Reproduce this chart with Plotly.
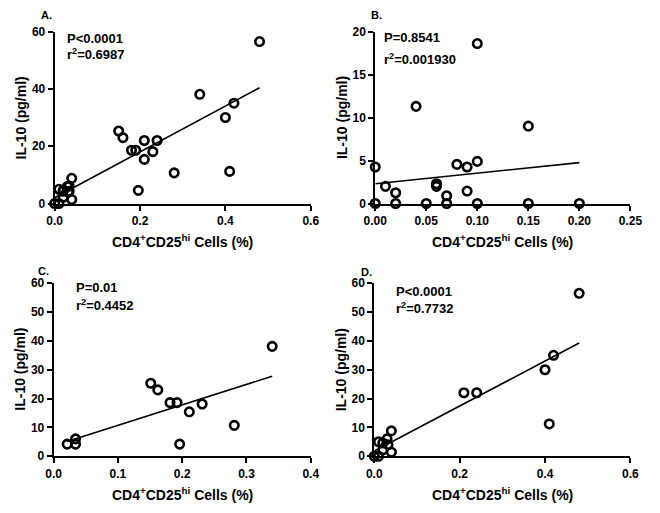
import numpy as np
import plotly.graph_objects as go

# ---------------- data ----------------
a_x = [0, 0.01, 0.01, 0.02, 0.02, 0.02, 0.03, 0.032, 0.034, 0.034, 0.04, 0.04,
       0.15, 0.16, 0.18, 0.19, 0.196, 0.21, 0.21, 0.23, 0.24, 0.28, 0.34,
       0.40, 0.41, 0.42, 0.48]
a_y = [0, 0, 5.0, 4.6, 4.3, 2.2, 6.0, 4.0, 4.3, 6.1, 8.8, 1.4,
       25.3, 23.0, 18.6, 18.6, 4.6, 22.0, 15.4, 18.1, 22.0, 10.7, 38.1,
       30.0, 11.2, 35.0, 56.5]

b_x = [0, 0, 0.01, 0.02, 0.02, 0.04, 0.05, 0.06, 0.06, 0.07, 0.07, 0.08,
       0.09, 0.09, 0.10, 0.10, 0.10, 0.15, 0.15, 0.20]
b_y = [4.25, 0, 2.0, 1.25, 0, 11.3, 0, 2.3, 2.0, 0, 0.9, 4.55,
       4.25, 1.45, 4.9, 18.6, 0, 9.0, 0, 0]

c_x = [0.021, 0.034, 0.034, 0.151, 0.162, 0.181, 0.192, 0.196, 0.211, 0.231, 0.281, 0.340]
c_y = [4.2, 4.2, 6.0, 25.3, 23.0, 18.6, 18.6, 4.2, 15.4, 18.1, 10.7, 38.1]

d_x = [0, 0.01, 0.01, 0.02, 0.02, 0.03, 0.032, 0.04, 0.04, 0.21, 0.24, 0.40, 0.41, 0.42, 0.48]
d_y = [0, 0, 5.0, 4.6, 2.2, 6.0, 4.0, 8.8, 1.4, 22.0, 22.0, 30.0, 11.2, 35.0, 56.5]

# regression lines (slope, intercept)
fit_a = (80.0, 2.0)
fit_b = (12.3, 2.3)
fit_c = (71.0, 3.6)
fit_d = (78.0, 1.8)

stats_p = ["P<0.0001", "P=0.8541", "P=0.01", "P<0.0001"]
stats_r2 = ["0.6987", "0.001930", "0.4452", "0.7732"]
panel_labels = ["A.", "B.", "C.", "D."]

x_ranges = [[0, 0.6], [0, 0.25], [0, 0.4], [0, 0.6]]
y_ranges = [[0, 60], [0, 20], [0, 60], [0, 60]]
x_ticks = [[0.0, 0.2, 0.4, 0.6], [0.0, 0.05, 0.10, 0.15, 0.20, 0.25],
           [0.0, 0.1, 0.2, 0.3, 0.4], [0.0, 0.2, 0.4, 0.6]]
x_ticklabels = [["0.0", "0.2", "0.4", "0.6"], ["0.00", "0.05", "0.10", "0.15", "0.20", "0.25"],
                ["0.0", "0.1", "0.2", "0.3", "0.4"], ["0.0", "0.2", "0.4", "0.6"]]
y_ticks = [[0, 20, 40, 60], [0, 5, 10, 15, 20], [0, 10, 20, 30, 40, 50, 60],
           [0, 10, 20, 30, 40, 50, 60]]

x_title = "CD4<sup>+</sup>CD25<sup>hi</sup> Cells (%)"
y_title = "IL-10 (pg/ml)"

# ---------------- layout geometry ----------------
# page is 660x513; the body keeps its default 8px margin, so the figure is
# 16px smaller and page pixel p maps to figure pixel p - 8.
PAGE_W, PAGE_H = 660, 513
OFF = 8
W, H = PAGE_W - 2 * OFF, PAGE_H - 2 * OFF
# (left, right, top, bottom) in page pixels for each plot area
boxes = [(44, 310, 25, 202), (377, 642, 25, 202), (43, 310, 284, 462), (376, 642, 284, 462)]
label_pos = [(28, 8), (370, 8), (25, 271), (360, 272)]
p_pos = [(55, 32), (384, 31), (64, 288), (396, 292)]
r_pos = [(55, 48), (384, 53), (64, 306), (396, 310)]


def fx(px):
    return (px - OFF) / W


def fy(py):
    return 1 - (py - OFF) / H


FONT = "Liberation Sans, Arial, sans-serif"

fig = go.Figure()
datasets = [(a_x, a_y, fit_a), (b_x, b_y, fit_b), (c_x, c_y, fit_c), (d_x, d_y, fit_d)]
annotations = []
for i, (xs, ys, fit) in enumerate(datasets):
    sfx = "" if i == 0 else str(i + 1)
    xa, ya = "x" + sfx, "y" + sfx
    lx = np.array([min(xs), max(xs)])
    ly = fit[0] * lx + fit[1]
    fig.add_trace(go.Scatter(x=lx, y=ly, mode="lines", xaxis=xa, yaxis=ya,
                             line=dict(color="black", width=1.6), showlegend=False,
                             hoverinfo="skip"))
    fig.add_trace(go.Scatter(x=xs, y=ys, mode="markers", xaxis=xa, yaxis=ya,
                             marker=dict(symbol="circle-open", size=8.5, color="black",
                                         line=dict(color="black", width=2.6)),
                             cliponaxis=False, showlegend=False))
    l, r, t, b = boxes[i]
    axis_common = dict(showline=True, linecolor="black", linewidth=2, ticks="outside",
                       ticklen=5, tickwidth=2, tickcolor="black", showgrid=False,
                       zeroline=False, tickfont=dict(family=FONT, size=12, color="black",
                                                     weight="bold"))
    fig.layout["xaxis" + sfx] = dict(domain=[fx(l), fx(r)], range=x_ranges[i], anchor=ya,
                                     tickmode="array", tickvals=x_ticks[i],
                                     ticktext=x_ticklabels[i], **axis_common)
    fig.layout["yaxis" + sfx] = dict(domain=[fy(b), fy(t)], range=y_ranges[i], anchor=xa,
                                     tickmode="array", tickvals=y_ticks[i], **axis_common)
    # axis titles
    annotations.append(dict(x=fx((l + r) / 2), y=fy(b + 39), xref="paper", yref="paper",
                            text=x_title, showarrow=False, xanchor="center", yanchor="middle",
                            font=dict(family=FONT, size=14, color="black", weight="bold")))
    annotations.append(dict(x=fx(l - 35), y=fy((t + b) / 2), xref="paper", yref="paper",
                            text=y_title, showarrow=False, textangle=-90,
                            xanchor="center", yanchor="middle",
                            font=dict(family=FONT, size=14, color="black", weight="bold")))
    # panel label
    lxp, lyp = label_pos[i]
    annotations.append(dict(x=fx(lxp), y=fy(lyp), xref="paper", yref="paper",
                            text=panel_labels[i], showarrow=False, xanchor="left",
                            yanchor="middle",
                            font=dict(family=FONT, size=11, color="black", weight="bold")))
    # stats
    px_, py_ = p_pos[i]
    annotations.append(dict(x=fx(px_), y=fy(py_), xref="paper", yref="paper",
                            text=stats_p[i], showarrow=False, xanchor="left", yanchor="middle",
                            font=dict(family=FONT, size=13, color="black", weight="bold")))
    rx_, ry_ = r_pos[i]
    annotations.append(dict(x=fx(rx_), y=fy(ry_), xref="paper", yref="paper",
                            text="r<sup>2</sup>=" + stats_r2[i], showarrow=False,
                            xanchor="left", yanchor="middle",
                            font=dict(family=FONT, size=13, color="black", weight="bold")))

fig.update_layout(width=W, height=H, margin=dict(l=0, r=0, t=0, b=0),
                  plot_bgcolor="white", paper_bgcolor="white",
                  annotations=annotations, showlegend=False)

fig.write_html("out.html", config={"displayModeBar": False})
